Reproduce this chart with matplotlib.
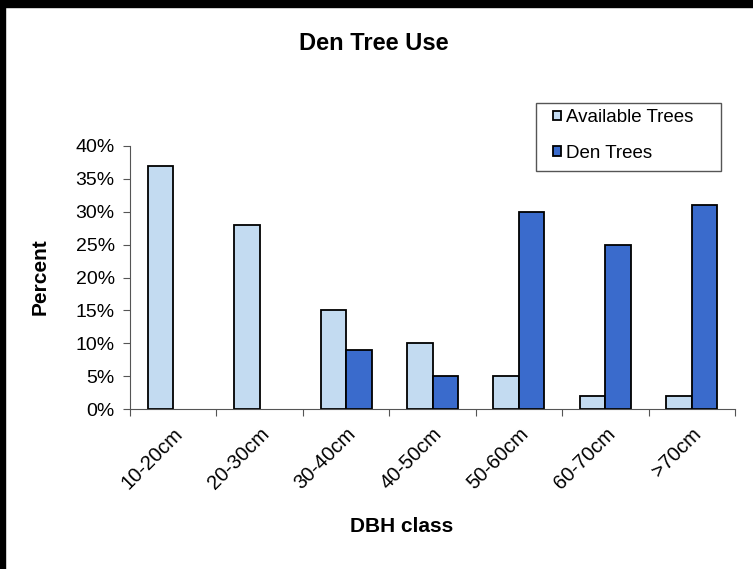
import numpy as np
import matplotlib.pyplot as plt
from matplotlib.patches import Rectangle
from matplotlib.ticker import PercentFormatter

plt.rcParams['font.family'] = ['Liberation Sans', 'DejaVu Sans']

# данные
classes = ["10-20cm", "20-30cm", "30-40cm", "40-50cm", "50-60cm", "60-70cm", ">70cm"]
available = [37, 28, 15, 10, 5, 2, 2]
den = [0, 0, 9, 5, 30, 25, 31]

light = "#c3dbf1"
dark = "#3a6bcc"

W, H = 753, 569
fig = plt.figure(figsize=(7.53, 5.69), dpi=100, facecolor="white")
ax = fig.add_axes([130 / W, 1 - 409 / H, (735 - 130) / W, (409 - 146) / H])

x = np.arange(len(classes))
w = 0.295
ax.bar(x - w / 2, available, w, color=light, edgecolor="black", linewidth=1.3, label="Available Trees")
ax.bar(x[2:] + w / 2, den[2:], w, color=dark, edgecolor="black", linewidth=1.3, label="Den Trees")

ax.set_xlim(-0.5, len(classes) - 0.5)
ax.set_ylim(0, 40)
ax.set_yticks(range(0, 41, 5))
ax.yaxis.set_major_formatter(PercentFormatter(decimals=0))
ax.tick_params(axis="y", labelsize=14, length=5, color="#555555", pad=6)

# деления оси x на границах категорий, подписи по центру
ax.set_xticks(np.arange(-0.5, len(classes)), minor=False)
ax.set_xticklabels([])
ax.set_xticks(x, minor=True)
ax.set_xticklabels(classes, minor=True, rotation=45, ha="right", rotation_mode="anchor", fontsize=14.5)
ax.tick_params(axis="x", which="major", length=5, color="#555555")
ax.tick_params(axis="x", which="minor", length=0, pad=11)

for s in ["top", "right"]:
    ax.spines[s].set_visible(False)
for s in ["left", "bottom"]:
    ax.spines[s].set_color("#555555")

fig.text(374 / W, 1 - 43 / H, "Den Tree Use", ha="center", va="center", fontsize=17, fontweight="bold")
fig.text(402 / W, 1 - 526 / H, "DBH class", ha="center", va="center", fontsize=15, fontweight="bold")
fig.text(40 / W, 1 - 277 / H, "Percent", ha="center", va="center", rotation=90, fontsize=15, fontweight="bold")

# легенда без рамки + отдельная рамка
leg = fig.legend(loc="upper left", bbox_to_anchor=(553 / W, 1 - 109 / H), fontsize=13.5,
                 frameon=False, handlelength=0.4, handleheight=0.4,
                 handletextpad=0.3, borderpad=0, labelspacing=1.0, borderaxespad=0)
fig.patches.append(Rectangle((536 / W, 1 - 171 / H), (721 - 536) / W, (171 - 103) / H,
                             transform=fig.transFigure, fill=False, edgecolor="#555555", linewidth=1.0))

# чёрная рамка сверху и слева, как на скриншоте
fig.patches.append(Rectangle((0, 1 - 7 / H), 1, 7 / H, transform=fig.transFigure, color="black"))
fig.patches.append(Rectangle((0, 0), 5 / W, 1, transform=fig.transFigure, color="black"))

fig.savefig("out.png", dpi=100, facecolor="white")
